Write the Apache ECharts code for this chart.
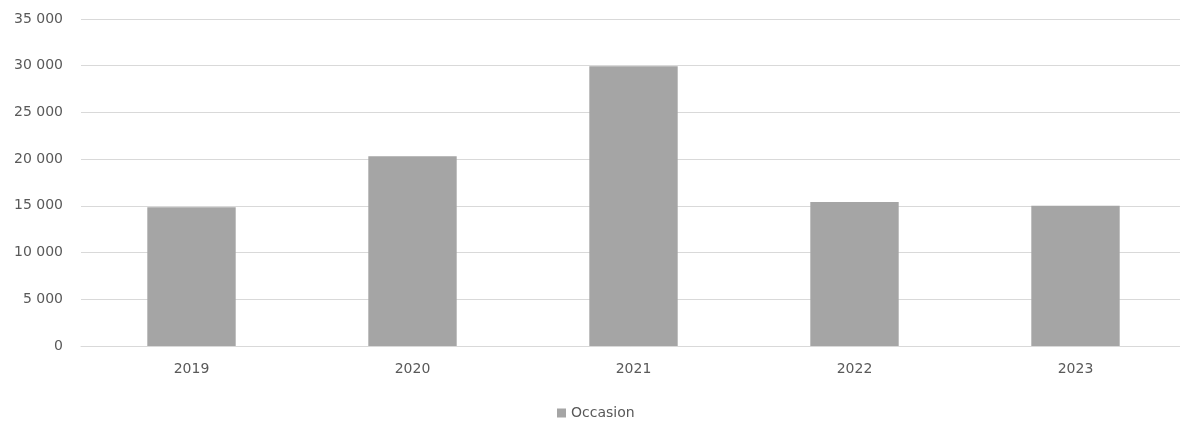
<!DOCTYPE html>
<html>
<head>
<meta charset="utf-8">
<script src="https://cdn.jsdelivr.net/npm/echarts@6/dist/echarts.min.js"></script>
<style>
	html, body { margin: 0; padding: 0; background: #fff; }
	#chart { width: 1180px; height: 421px; }
</style>
</head>
<body>
<div id="chart"></div>
<script>
var years = [ '2019', '2020', '2021', '2022', '2023' ];
var occasion = [ 14850, 20300, 29950, 15400, 15000 ];
var seriesName = 'Occasion';

var txtColor = '#595959';
var fontName = "'Century Gothic', 'DejaVu Sans', sans-serif";

var chart = echarts.init(document.getElementById('chart'));
var option = {
	animation : false,
	textStyle : {
		fontFamily : fontName
	},
	legend : {
		data : [ seriesName ],
		left : 552,
		top : 401,
		itemWidth : 9,
		itemHeight : 9,
		itemGap : 3,
		icon : 'rect',
		textStyle : {
			color : txtColor,
			fontSize : 14,
			fontFamily : fontName
		}
	},
	grid : {
		left : 81,
		top : 19,
		width : 1105,
		height : 327,
		outerBoundsMode : 'none'
	},
	xAxis : {
		type : 'category',
		data : years,
		axisTick : { show : false },
		axisLine : {
			lineStyle : { color : '#d9d9d9', width : 1 }
		},
		axisLabel : {
			color : txtColor,
			fontSize : 14,
			margin : 16,
			fontFamily : fontName
		}
	},
	yAxis : {
		type : 'value',
		min : 0,
		max : 35000,
		interval : 5000,
		axisLine : { show : false },
		axisTick : { show : false },
		splitLine : {
			lineStyle : { color : '#d9d9d9', width : 1 }
		},
		axisLabel : {
			color : txtColor,
			fontSize : 14,
			margin : 18,
			fontFamily : fontName,
			formatter : function(v) {
				return String(v).replace(/\B(?=(\d{3})+(?!\d))/g, ' ');
			}
		}
	},
	series : [ {
		name : seriesName,
		type : 'bar',
		data : occasion,
		barWidth : '40%',
		itemStyle : {
			color : '#a5a5a5'
		}
	} ]
};
chart.setOption(option);
</script>
</body>
</html>
